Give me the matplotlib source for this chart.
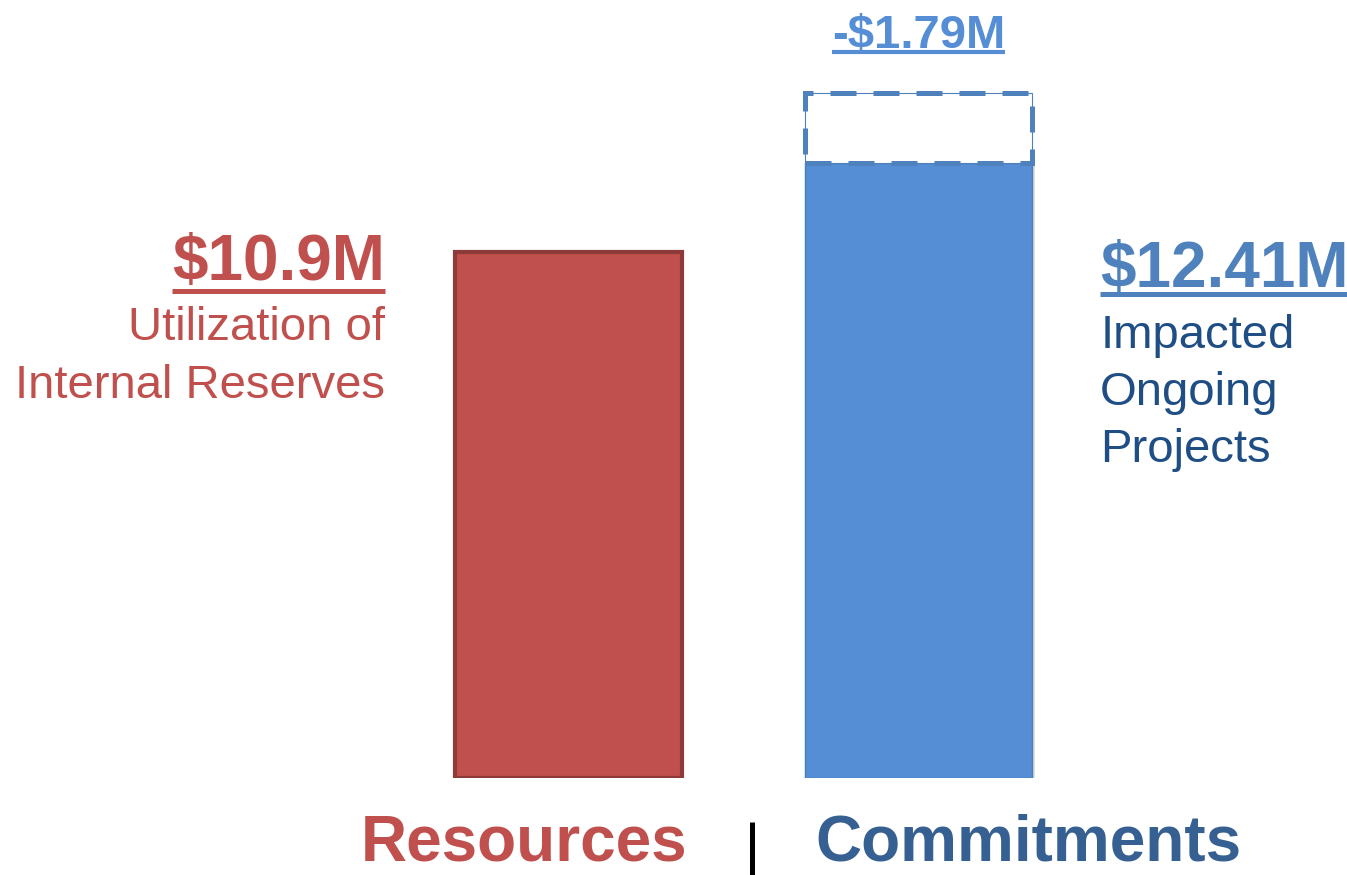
import matplotlib
matplotlib.use("Agg")
import matplotlib.pyplot as plt
from matplotlib.lines import Line2D

plt.rcParams['font.family'] = ['Liberation Sans', 'DejaVu Sans']

# data (bar heights as drawn in the picture, $M)
categories = ["Resources", "Commitments"]
values = [10.9, 12.75]          # solid bars
reduction = [0.0, 1.45]         # dashed part sitting on top of the bar
value_labels = ["$10.9M", "$12.41M"]
reduction_label = "-$1.79M"
desc_left = ["Utilization of", "Internal Reserves"]
desc_right = ["Impacted", "Ongoing", "Projects"]

RED = "#C0504D"
RED_EDGE = "#8E3A38"
BLUE = "#558ED5"
BLUE_DARK = "#4F81BD"
NAVY = "#1F4E85"
COMMIT = "#376092"

fig = plt.figure(figsize=(13.47, 8.75), dpi=100)
ax = fig.add_axes([0, 0.1109, 1, 0.8273])
ax.set_xlim(-1.624, 2.224)
ax.set_ylim(0, 15)
ax.axis("off")

x = [0, 1]
w = 0.649

# shadow for blue bar
ax.bar(x[1] + 0.008, values[1], width=w, bottom=-0.07, color="#c8c8c8",
       alpha=0.6, zorder=1)
ax.bar(x[0], values[0], width=w, color=RED, edgecolor=RED_EDGE, linewidth=3,
       zorder=2)
ax.bar(x[1], values[1], width=w, color=BLUE, edgecolor="#4A7EBB", linewidth=1,
       zorder=2)
# dashed "cut" on top of commitments
ax.bar(x[1], reduction[1], width=w, bottom=values[1], color="white",
       edgecolor=BLUE_DARK, linewidth=0.8, zorder=3)
ax.bar(x[1], reduction[1], width=w, bottom=values[1], fill=False,
       edgecolor=BLUE_DARK, linewidth=3.6, linestyle=(0, (5.2, 3.4)), zorder=4)

# texts
t_left = ax.text(-0.524, 10.32, value_labels[0], ha="right", va="baseline",
                 fontsize=46, fontweight="bold", color=RED)
for s, yy in zip(desc_left, [9.08, 7.87]):
    ax.text(-0.524, yy, s, ha="right", va="baseline", fontsize=34, color=RED)

t_right = ax.text(1.519, 10.17, value_labels[1], ha="left", va="baseline",
                  fontsize=46, fontweight="bold", color=BLUE_DARK)
for s, yy in zip(desc_right, [8.91, 7.73, 6.55]):
    ax.text(1.519, yy, s, ha="left", va="baseline", fontsize=34, color=NAVY)

t_red = ax.text(1.0, 15.13, reduction_label, ha="center", va="baseline",
                fontsize=34, fontweight="bold", color=BLUE)

ax.text(0.341, -1.72, categories[0], ha="right", va="baseline",
        fontsize=46, fontweight="bold", color=RED)
ax.text(0.704, -1.72, categories[1], ha="left", va="baseline",
        fontsize=46, fontweight="bold", color=COMMIT)
ax.plot([0.524, 0.524], [-0.91, -2.01], color="black", linewidth=3.6,
        solid_capstyle="butt", clip_on=False)

# underlines
fig.canvas.draw()
renderer = fig.canvas.get_renderer()
inv = fig.transFigure.inverted()
for t, off, lw in [(t_left, 11, 3.6), (t_right, 7, 3.6), (t_red, 4, 3.0)]:
    bb = t.get_window_extent(renderer)
    by = ax.transData.transform(t.get_position())[1] - off
    (x0, y0), (x1, y1) = inv.transform([(bb.x0, by), (bb.x1, by)])
    fig.add_artist(Line2D([x0, x1], [y0, y1], color=t.get_color(),
                          linewidth=lw, solid_capstyle="butt"))

fig.savefig("out.png", dpi=100)
